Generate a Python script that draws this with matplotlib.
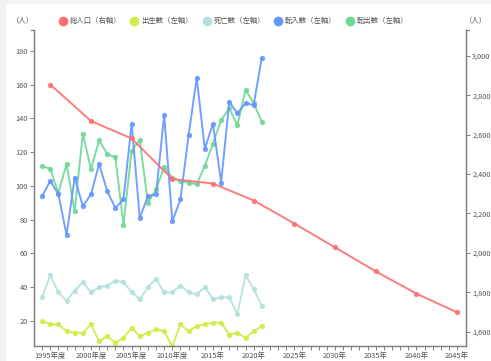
import numpy as np
import matplotlib
matplotlib.use('Agg')
import matplotlib.pyplot as plt
from matplotlib.patches import Rectangle
from matplotlib.lines import Line2D
from matplotlib.ticker import FuncFormatter

plt.rcParams['font.family'] = ['Noto Sans CJK JP', 'DejaVu Sans']

# annual figures (people)
years = list(range(1994, 2022))
births = [20, 18, 18, 14, 13, 13, 18, 8, 11, 7, 10, 16, 11, 13, 15, 14, 5, 18, 14, 17, 18, 19, 19, 12, 13, 10, 14, 17]
deaths = [34, 47, 37, 32, 38, 43, 37, 40, 41, 44, 43, 37, 33, 40, 45, 37, 37, 41, 37, 36, 40, 33, 34, 34, 24, 47, 39, 29]
moved_in = [94, 103, 95, 71, 105, 88, 95, 113, 97, 87, 92, 137, 81, 94, 95, 142, 79, 92, 130, 164, 122, 137, 102, 150, 143, 149, 148, 176]
moved_out = [112, 110, 96, 113, 85, 131, 110, 127, 119, 117, 77, 121, 127, 90, 98, 111, 105, 103, 102, 101, 112, 125, 139, 146, 136, 157, 149, 138]

# total population, census + projection (right axis)
pop_years = [1995, 2000, 2005, 2010, 2015, 2020, 2025, 2030, 2035, 2040, 2045]
population = [2855, 2670, 2581, 2375, 2352, 2266, 2149, 2028, 1906, 1793, 1698]

label_years = [1995, 2000, 2005, 2010, 2015, 2020, 2025, 2030, 2035, 2040, 2045]
label_text = ['1995年度', '2000年度', '2005年度', '2010年度', '2015年', '2020年',
              '2025年', '2030年', '2035年', '2040年', '2045年']

series_names = ['総人口（右軸）', '出生数（左軸）', '死亡数（左軸）', '転入数（左軸）', '転出数（左軸）']
colors = ['#ff6e6e', '#d2eb46', '#b4e1dc', '#6496ff', '#6ed796']

W, H = 491, 361
fig = plt.figure(figsize=(W / 100, H / 100), dpi=100, facecolor='#f2f2f2')
fig.add_artist(Rectangle((6 / W, 0), 1, 1 - 4 / H, transform=fig.transFigure,
                         facecolor='white', edgecolor='none', zorder=0))

ax = fig.add_axes([34 / W, 1 - 346 / H, (466 - 34) / W, (346 - 30) / H])
ax.set_facecolor('none')
ax2 = ax.twinx()

axis_c = '#808080'
txt_c = '#555555'
lkw = dict(lw=1.4, marker='o', ms=3.8, mew=0, alpha=0.9)

ax.plot(years, births, color=colors[1], **lkw)
ax.plot(years, deaths, color=colors[2], **lkw)
ax.plot(years, moved_out, color=colors[4], **lkw)
ax.plot(years, moved_in, color=colors[3], **lkw)
ax2.plot(pop_years, population, color=colors[0], **lkw)

ax.set_xlim(1993, 2046.1)
ax.set_ylim(5.2, 192.4)
ax2.set_ylim(1527, 3132)

ax.set_yticks(range(20, 181, 20))
ax2.set_yticks(range(1600, 3001, 200))
ax2.yaxis.set_major_formatter(FuncFormatter(lambda v, p: f'{int(v):,}'))

ax.set_xticks(range(1994, 2046), minor=True)
ax.set_xticks(label_years)
ax.set_xticklabels(label_text)

for a in (ax, ax2):
    a.spines['top'].set_visible(False)
    for s in ('left', 'right', 'bottom'):
        a.spines[s].set_color(axis_c)
        a.spines[s].set_linewidth(0.9)
    a.tick_params(which='both', colors=axis_c, labelcolor=txt_c, labelsize=5.3,
                  length=3, width=0.7, pad=1.5)
ax.tick_params(axis='x', which='minor', length=3, width=0.7, colors=axis_c)

# outer end ticks on the vertical axes
ax.plot([-0.008, 0], [1, 1], transform=ax.transAxes, color=axis_c, lw=0.9, clip_on=False)
ax.plot([1, 1.008], [1, 1], transform=ax.transAxes, color=axis_c, lw=0.9, clip_on=False)

# legend row across the top
leg_x = [63, 134, 207, 278, 350]
leg_y = 1 - 21 / H
for x, name, c in zip(leg_x, series_names, colors):
    fig.add_artist(Line2D([x / W], [leg_y], marker='o', ms=7, mew=0, color=c,
                          transform=fig.transFigure))
    fig.text((x + 7) / W, leg_y, name, fontsize=5.3, color=txt_c, va='center', ha='left')

fig.text(23 / W, leg_y, '（人）', fontsize=5.3, color=txt_c, va='center', ha='center')
fig.text(476 / W, leg_y, '（人）', fontsize=5.3, color=txt_c, va='center', ha='center')

fig.savefig('out.png', dpi=100, facecolor=fig.get_facecolor())
